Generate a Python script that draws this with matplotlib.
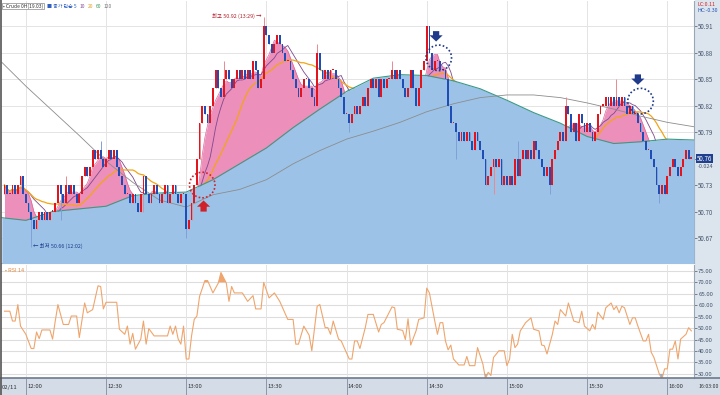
import numpy as np
import pandas as pd
import matplotlib
matplotlib.use('Agg')
import matplotlib.pyplot as plt
from matplotlib.patches import Ellipse, Rectangle
import matplotlib.transforms as mtransforms

plt.rcParams['font.family'] = ['Noto Sans CJK KR', 'DejaVu Sans']

# 1-minute closes, cents above 50.00 ; minute 0 = 12:00
close_1152 = [73, 72, 72, 73, 72, 73, 74, 72]
close_1200 = [71, 70, 69, 68, 69, 70, 69, 70, 69, 70]
close_1210 = [70, 71, 73, 72, 71, 73, 72, 73, 72, 71]
close_1220 = [72, 74, 75, 74, 75, 77, 76, 77, 76, 75]
close_1230 = [76, 77, 76, 77, 75, 74, 73, 72, 72, 71]
close_1240 = [72, 71, 70, 72, 74, 72, 71, 72, 73, 72]
close_1250 = [71, 72, 73, 71, 72, 73, 72, 71, 72, 72]
close_1300 = [68, 69, 71, 73, 76, 80, 82, 81, 80, 82]
close_1310 = [84, 86, 84, 83, 85, 86, 85, 84, 85, 86]
close_1320 = [85, 86, 85, 86, 85, 87, 86, 84, 85, 91]
close_1330 = [90, 89, 88, 89, 90, 89, 88, 87, 87, 86]
close_1340 = [85, 84, 83, 84, 85, 85, 84, 83, 82, 88]
close_1350 = [86, 85, 86, 85, 86, 86, 85, 84, 83, 81]
close_1400 = [81, 80, 81, 82, 81, 82, 83, 82, 84, 85]
close_1410 = [84, 85, 83, 85, 84, 85, 85, 86, 85, 86]
close_1420 = [85, 84, 83, 84, 86, 84, 82, 84, 86, 87]
close_1430 = [91, 88, 86, 87, 87, 86, 86, 85, 82, 80]
close_1440 = [80, 79, 78, 79, 78, 79, 78, 77, 79, 78]
close_1450 = [77, 76, 73, 74, 75, 76, 75, 76, 73, 74]
close_1500 = [73, 74, 73, 76, 74, 76, 77, 76, 77, 76]
close_1510 = [78, 77, 76, 75, 74, 75, 73, 76, 77, 78]
close_1520 = [79, 78, 82, 81, 79, 80, 78, 81, 80, 79]
close_1530 = [80, 79, 78, 79, 81, 82, 82, 83, 82, 83]
close_1540 = [82, 83, 82, 83, 82, 81, 82, 81, 81, 80]
close_1550 = [79, 78, 77, 77, 76, 75, 73, 72, 73, 72]
close_1600 = [74, 75, 76, 75, 74, 75, 76, 77, 76, 76]
first_open = 50.72
start_min = -8

# wicks that stick out of the bodies (minute, price)
hi_t = [15, 28, 74, 89, 109, 137, 150, 184, 202, 221]
hi_p = [50.74, 50.78, 50.87, 50.92, 50.89, 50.87, 50.91, 50.78, 50.83, 50.85]
lo_t = [2, 13, 44, 60, 121, 161, 175, 196, 237]
lo_p = [50.66, 50.69, 50.70, 50.67, 50.79, 50.76, 50.72, 50.72, 50.71]

# 60 and 120 moving averages (they need earlier data)
ma_t = [-9, 0, 10, 20, 30, 40, 50, 60, 70, 80, 90, 100, 110, 120, 130, 140,
        150, 160, 170, 180, 190, 200, 210, 220, 230, 240, 250]
ma60 = [50.693, 50.690, 50.700, 50.703, 50.706, 50.718, 50.721, 50.722, 50.736,
        50.754, 50.772, 50.795, 50.816, 50.836, 50.851, 50.855, 50.854, 50.848,
        50.839, 50.826, 50.812, 50.800, 50.785, 50.777, 50.779, 50.782, 50.781]
ma120 = [50.869, 50.842, 50.814, 50.786, 50.757, 50.733, 50.713, 50.705, 50.719,
         50.725, 50.736, 50.754, 50.769, 50.782, 50.791, 50.801, 50.813, 50.822,
         50.829, 50.832, 50.832, 50.829, 50.823, 50.816, 50.808, 50.801, 50.796]

# RSI 14 line vertices (minute, value)
rsi_t = [-8, -6, -5, -4, -3, -2, 0, 2, 3, 4, 5, 6, 9, 10, 11, 12, 14, 16, 17, 19,
         20, 22, 23, 25, 27, 28, 29, 30, 34, 35, 37, 38, 39, 40, 41, 43, 44, 45,
         46, 48, 53, 54, 55, 56, 57, 58, 59, 60, 61, 62, 63, 64, 65, 67, 68, 70,
         72, 73, 75, 76, 77, 78, 81, 83, 85, 86, 88, 89, 91, 93, 95, 98, 100, 101,
         102, 103, 104, 106, 107, 109, 110, 112, 113, 114, 115, 117, 118, 121, 122,
         123, 124, 125, 127, 128, 130, 132, 133, 134, 137, 138, 139, 141, 142, 143,
         144, 146, 147, 149, 150, 151, 153, 154, 155, 156, 157, 158, 159, 160, 162,
         164, 165, 166, 168, 169, 171, 172, 173, 174, 175, 177, 179, 180, 181, 182,
         183, 184, 185, 187, 189, 190, 192, 193, 194, 195, 197, 198, 199, 200, 202,
         203, 205, 207, 208, 209, 211, 212, 213, 214, 216, 217, 219, 220, 221, 222,
         223, 224, 226, 227, 228, 229, 231, 232, 233, 234, 235, 237, 238, 239, 240,
         241, 242, 243, 244, 245, 247, 248, 249]
rsi_v = [57.4, 57.4, 53.1, 53.1, 60.3, 50.9, 47.3, 41.1, 41.1, 48.3, 45.4, 49.2,
         49.2, 45.2, 53.1, 60.3, 51.6, 51.6, 55.3, 55.3, 45.9, 61.0, 56.7, 58.1,
         68.5, 68.2, 58.4, 61.3, 61.3, 49.5, 47.3, 50.9, 43.0, 47.7, 40.8, 45.2,
         53.1, 43.0, 49.8, 46.6, 46.6, 50.9, 47.3, 50.9, 45.2, 43.0, 50.9, 36.5,
         36.5, 46.6, 53.8, 55.3, 63.9, 70.8, 70.8, 65.4, 69.7, 74.3, 69.7, 61.7,
         68.2, 65.4, 65.4, 61.7, 64.2, 58.4, 58.4, 70.0, 63.2, 65.4, 61.7, 53.8,
         53.8, 43.0, 43.0, 46.9, 50.9, 46.9, 40.1, 59.6, 60.3, 50.2, 50.2, 47.3,
         53.1, 45.2, 44.4, 36.5, 36.5, 44.4, 44.4, 41.1, 50.2, 56.0, 56.0, 48.3,
         51.6, 52.4, 59.3, 58.9, 49.5, 49.0, 45.0, 54.1, 42.6, 48.8, 53.8, 54.5,
         67.5, 65.4, 53.1, 47.3, 52.4, 52.4, 44.4, 40.5, 42.6, 36.5, 33.9, 33.9,
         37.6, 33.6, 33.6, 41.5, 34.3, 27.8, 30.7, 29.3, 37.2, 40.1, 40.1, 33.6,
         36.5, 47.3, 41.5, 43.0, 48.8, 52.4, 54.5, 49.5, 48.8, 42.6, 42.3, 38.7,
         47.3, 53.1, 51.6, 58.1, 55.3, 61.0, 53.1, 52.4, 57.4, 50.9, 48.8, 51.6,
         49.5, 57.0, 53.8, 58.9, 61.0, 58.1, 59.6, 56.7, 59.6, 58.9, 51.6, 54.5,
         54.5, 50.9, 44.4, 44.4, 47.3, 39.4, 37.2, 30.0, 27.8, 32.2, 32.2, 40.8,
         40.8, 44.4, 36.5, 45.2, 47.3, 50.2, 48.8]

price_ticks = [50.67, 50.70, 50.73, 50.76, 50.79, 50.82, 50.85, 50.88, 50.91]
rsi_ticks = [30, 35, 40, 45, 50, 55, 60, 65, 70, 75]
time_ticks = [0, 30, 60, 90, 120, 150, 180, 210, 240]
time_labels = ['12:00', '12:30', '13:00', '13:30', '14:00', '14:30', '15:00', '15:30', '16:00']
last_price = 50.76

cents = (close_1152 + close_1200 + close_1210 + close_1220 + close_1230 + close_1240
         + close_1250 + close_1300 + close_1310 + close_1320 + close_1330 + close_1340
         + close_1350 + close_1400 + close_1410 + close_1420 + close_1430 + close_1440
         + close_1450 + close_1500 + close_1510 + close_1520 + close_1530 + close_1540
         + close_1550 + close_1600)
closes = 50 + np.array(cents) / 100.0
t = np.arange(start_min, start_min + len(closes))
opens = np.r_[first_open, closes[:-1]]
highs = np.maximum(opens, closes)
lows = np.minimum(opens, closes)
for m, p in zip(hi_t, hi_p):
    highs[m - start_min] = max(highs[m - start_min], p)
for m, p in zip(lo_t, lo_p):
    lows[m - start_min] = min(lows[m - start_min], p)

s = pd.Series(closes)
ma5 = s.rolling(5, min_periods=1).mean().values
ma10 = s.rolling(10, min_periods=1).mean().values
ma20 = s.rolling(20, min_periods=1).mean().values

W, H = 720, 395
fig = plt.figure(figsize=(7.2, 3.95), dpi=100)
fig.patch.set_facecolor('white')


def fx(x):
    return x / W


def fy(y):
    return 1 - y / H


# side strips
fig.add_artist(Rectangle((fx(695), 0), 1 - fx(695), 1, transform=fig.transFigure,
                         facecolor='#DCE4EE', edgecolor='none', zorder=0))
fig.add_artist(Rectangle((0, 0), 1, fy(378), transform=fig.transFigure,
                         facecolor='#D3DCE7', edgecolor='none', zorder=0))
fig.add_artist(plt.Line2D([0, 1], [fy(378), fy(378)], transform=fig.transFigure,
                          color='#6C7A8C', lw=1.2))
fig.add_artist(plt.Line2D([fx(0.8), fx(0.8)], [0, 1], transform=fig.transFigure,
                          color='#555555', lw=1.2))

xmin, xmax = -9.3, 250.0
ax = fig.add_axes([fx(1), fy(263), fx(694) - fx(1), fy(1) - fy(263)])
ax.set_xlim(xmin, xmax)
ax.set_ylim(50.6417, 50.9384)

for p in price_ticks:
    ax.axhline(p, color='#E4E4E4', lw=0.7, zorder=0)
for m in time_ticks:
    ax.axvline(m, color='#E4E4E4', lw=0.7, zorder=0)

ax.fill_between(t, ma5, 50.5, color='#EC8FBB', lw=0, zorder=1)
ax.plot(t, ma5, color='#D9679C', lw=0.5, zorder=2)
ax.plot(t, ma10, color='#7D4A8E', lw=0.6, zorder=2)
ax.plot(t, ma20, color='#F2A516', lw=0.9, zorder=2)
ax.fill_between(ma_t, ma60, 50.5, color='#9CC3E7', lw=0, zorder=3)
ax.plot(ma_t, ma60, color='#3A9A86', lw=0.8, zorder=4)
ax.plot(ma_t, ma120, color='#8C8C8C', lw=0.6, zorder=4)

up = closes >= opens
col = np.where(up, '#E3141C', '#1E4DB6')
wick = np.where(up, '#E88A90', '#7FA0D8')
body = np.maximum(np.abs(closes - opens), 0.0012)
ax.vlines(t, lows, highs, colors=wick, lw=0.7, zorder=5)
ax.bar(t, body, bottom=np.minimum(opens, closes), width=0.68, color=col, lw=0, zorder=6)

# notes on the extremes
ax.text(89 - 1.0, 50.921, '최고 50.92 (13:29) →', ha='right', va='center',
        fontsize=3.9, color='#B01E2A', zorder=7)
ax.text(2 + 0.8, 50.661, '← 최저 50.66 (12:02)', ha='left', va='center',
        fontsize=3.9, color='#1F3A8A', zorder=7)

# signal circles and arrows
circ_t = [66, 154.5, 230]
circ_p = [50.730, 50.874, 50.825]
circ_c = ['#D0202A', '#1F3A8A', '#1F3A8A']
circ_dir = [1, -1, -1]
rx = 12.8 / 2.68
ry = 12.8 / 883
for m, p, c, d in zip(circ_t, circ_p, circ_c, circ_dir):
    ax.add_patch(Ellipse((m, p), 2 * rx, 2 * ry, fill=False, edgecolor=c,
                         lw=1.2, ls=(0, (1, 1.3)), zorder=8))
    if d > 0:
        tip = (m + 0.5, p - ry - 0.003)
        tail_off = (0, -8)
    else:
        tip = (m - 1.0, p + ry + 0.004)
        tail_off = (0, 7.5)
    ax.annotate('', xy=tip, xytext=tail_off, textcoords='offset points',
                arrowprops=dict(arrowstyle='simple,head_length=0.5,head_width=1.05,tail_width=0.5',
                                color=c, lw=0, mutation_scale=9, shrinkA=0, shrinkB=0), zorder=8)

ax.yaxis.tick_right()
ax.set_yticks(price_ticks)
ax.set_yticklabels(['%.2f' % p for p in price_ticks])
ax.tick_params(axis='y', labelsize=4.5, length=2, width=0.5, pad=1, colors='#555555',
               labelcolor='#44566C')
ax.set_xticks([])
for sp in ['top', 'left']:
    ax.spines[sp].set_visible(False)
ax.spines['right'].set_color('#9AA6B4')
ax.spines['bottom'].set_color('#9AA6B4')
ax.spines['bottom'].set_linewidth(0.8)

# last price tag
bt = mtransforms.blended_transform_factory(ax.transAxes, ax.transData)
ax.text(1.004, last_price, '%.2f' % last_price, transform=bt,
        ha='left', va='center', fontsize=4.5, color='white', zorder=9,
        bbox=dict(boxstyle='square,pad=0.15', facecolor='#1F3F8F', edgecolor='none'), clip_on=False)
ax.text(1.006, last_price - 0.009, '-0.024', transform=bt,
        ha='left', va='center', fontsize=4.0, color='#44566C', clip_on=False)

# RSI panel
ax2 = fig.add_axes([fx(1), fy(378), fx(694) - fx(1), fy(265) - fy(378)])
ax2.set_xlim(xmin, xmax)
ax2.set_ylim(28.2, 77.6)
for v in rsi_ticks:
    ax2.axhline(v, color='#DDDDDD', lw=0.8, zorder=0)
for m in time_ticks:
    ax2.axvline(m, color='#E4E4E4', lw=0.7, zorder=0)
rt = np.array(rsi_t, dtype=float)
rv = np.array(rsi_v)
ax2.fill_between(rt, rv, 70, where=rv > 70, interpolate=True, color='#F0A46E', lw=0, zorder=1)
ax2.fill_between(rt, rv, 30, where=rv < 30, interpolate=True, color='#86B4E2', lw=0, zorder=1)
ax2.plot(rt, rv, color='#EFA56C', lw=0.8, zorder=2)
ax2.yaxis.tick_right()
ax2.set_yticks(rsi_ticks)
ax2.set_yticklabels(['%.2f' % v for v in rsi_ticks])
ax2.tick_params(axis='y', labelsize=4.3, length=2, width=0.5, pad=1, colors='#555555',
                labelcolor='#44566C')
ax2.set_xticks([])
for sp in ['top', 'left', 'bottom']:
    ax2.spines[sp].set_visible(False)
ax2.spines['right'].set_color('#9AA6B4')
ax2.text(0.006, 0.955, '• RSI 14', transform=ax2.transAxes, fontsize=4.0,
         color='#E08A40', va='center')

# time labels in the bottom strip
tb = mtransforms.blended_transform_factory(ax2.transData, fig.transFigure)
for m, lab in zip(time_ticks, time_labels):
    fig.add_artist(plt.Line2D([fx(1) + (m - xmin) / (xmax - xmin) * (fx(694) - fx(1))] * 2,
                              [0, fy(378)], transform=fig.transFigure, color='#7E8C9C', lw=0.6))
    ax2.text(m + 0.5, fy(387), lab, transform=tb, fontsize=4.3, color='#333333',
             ha='left', va='center', clip_on=False)
fig.text(fx(2), fy(387), '02/11', fontsize=4.3, color='#333333', va='center')
fig.text(fx(698), fy(387), '16:03:00', fontsize=3.8, color='#333333', va='center')

# header, pieces placed one after another
fig.canvas.draw()
renderer = fig.canvas.get_renderer()
hdr = [('• Crude 0H(19.03)', '#333333'), ('■ 종가 단순 5', '#2F5FC0'), ('10', '#8A4E9C'),
       ('20', '#E0A020'), ('60', '#3A9A60'), ('120', '#777777')]
xpos = 3
for i, (txt, c) in enumerate(hdr):
    kw = {}
    if i == 0:
        kw['bbox'] = dict(boxstyle='square,pad=0.15', facecolor='white', edgecolor='#888888', lw=0.5)
    tx = fig.text(fx(xpos), fy(6), txt, fontsize=3.6, color=c, va='center', **kw)
    ext = tx.get_window_extent(renderer)
    xpos += ext.width + (4 if i == 0 else 2.5)
fig.text(fx(697), fy(4), 'LC:0.11', fontsize=3.8, color='#D02020', va='center')
fig.text(fx(697), fy(11), 'HC:-0.30', fontsize=3.8, color='#2050B0', va='center')

fig.savefig('out.png', dpi=100)
